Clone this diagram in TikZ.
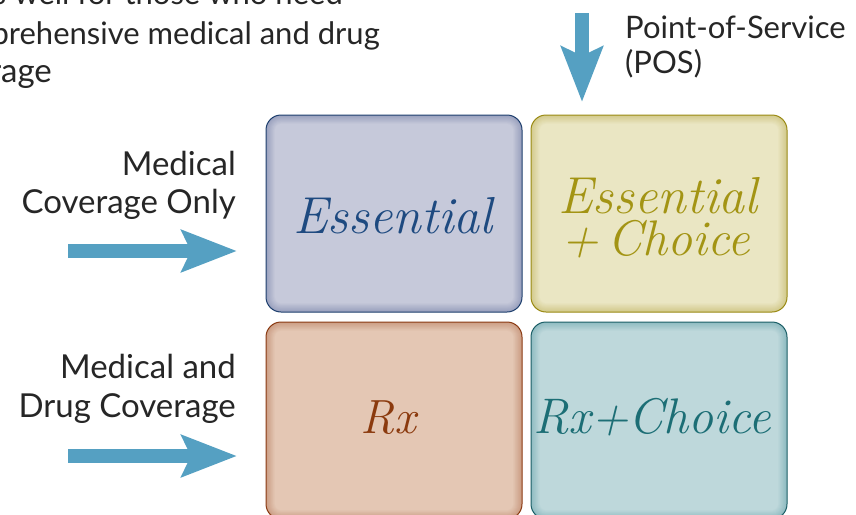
\documentclass[tikz,border=0pt]{standalone}
\usepackage{fontspec}
\setmainfont{Lato}
\newfontfamily\lmr{Latin Modern Roman}
\usetikzlibrary{arrows.meta}
\definecolor{arrowblue}{HTML}{55A0C2}
\definecolor{labelgray}{HTML}{262626}
\definecolor{essfill}{HTML}{C6C9DA}
\definecolor{essedge}{HTML}{9AA1BE}
\definecolor{essborder}{HTML}{1E3F6E}
\definecolor{esstext}{HTML}{1E4A80}
\definecolor{ecfill}{HTML}{EAE6C3}
\definecolor{ecedge}{HTML}{D3CA8C}
\definecolor{ecborder}{HTML}{9A8A14}
\definecolor{ectext}{HTML}{A39414}
\definecolor{rxfill}{HTML}{E4C7B4}
\definecolor{rxedge}{HTML}{CB9E85}
\definecolor{rxborder}{HTML}{8A3A12}
\definecolor{rxtext}{HTML}{8B3A0E}
\definecolor{rcfill}{HTML}{BED8DB}
\definecolor{rcedge}{HTML}{8FBBC1}
\definecolor{rcborder}{HTML}{1B5E66}
\definecolor{rctext}{HTML}{1C6E75}
\tikzset{
  lbl/.style={font=\fontsize{33}{38}\selectfont, text=labelgray, inner sep=0pt},
  smalllbl/.style={font=\fontsize{31}{38}\selectfont, text=labelgray, inner sep=0pt},
  bigarrow/.style={line width=14pt, draw=arrowblue, -{Stealth[length=55pt,width=41pt,inset=9pt]}},
  planbox/.style n args={3}{rectangle, rounded corners=15pt, minimum width=256pt, minimum height=197pt,
    draw=#3, line width=1pt, fill=#2,
    path picture={
      \foreach \i in {1,...,10}{
        \pgfmathsetmacro\p{\i*10}
        \fill[#1!\p!#2, rounded corners={max(15-\i*0.9,3)*1pt}]
          ([shift={(\i*0.9pt,\i*0.9pt)}]path picture bounding box.south west)
          rectangle
          ([shift={(-\i*0.9pt,-\i*0.9pt)}]path picture bounding box.north east);
      }
    }},
  boxtext/.style={font=\lmr\itshape\fontsize{52}{56}\selectfont, inner sep=0pt, anchor=base west},
  boxtextmd/.style={font=\lmr\itshape\fontsize{50}{54}\selectfont, inner sep=0pt, anchor=base west},
  boxtextsm/.style={font=\lmr\itshape\fontsize{48}{52}\selectfont, inner sep=0pt, anchor=base west}
}
\begin{document}
\begin{tikzpicture}[x=1pt,y=-1pt]
\useasboundingbox (0,0) rectangle (856,514);
\clip (0,0) rectangle (856,514);
% top-left text (cut by the picture edge)
\node[smalllbl, anchor=base east] (t1) at (343,5) {works well for those who need};
\node[smalllbl, anchor=base east] (t2) at (380,44) {comprehensive medical and drug};
\node[lbl, anchor=base east] (t3) at (52,82) {coverage};
% POS
\node[smalllbl, anchor=base west] (pos1) at (625,38) {Point-of-Service};
\node[smalllbl, anchor=base west] (pos2) at (625,73) {(POS)};
% left labels
\node[lbl, anchor=base east] (m1) at (236,175) {Medical};
\node[lbl, anchor=base east] (m2) at (236,213) {Coverage Only};
\node[lbl, anchor=base east] (d1) at (236,378) {Medical and};
\node[lbl, anchor=base east] (d2) at (236,417) {Drug Coverage};
% boxes
\node[planbox={essfill}{essedge}{essborder}] (ess) at (394,213.5) {};
\node[planbox={ecfill}{ecedge}{ecborder}] (essc) at (659,213.5) {};
\node[planbox={rxfill}{rxedge}{rxborder}] (rx) at (394,420.5) {};
\node[planbox={rcfill}{rcedge}{rcborder}] (rxc) at (659,420.5) {};
% box texts
\node[boxtext, text=esstext] (esst) at (293,233) {Essential};
\node[boxtext, text=ectext, text depth=0pt] (ect1) at (558,213) {Essential};
\node[boxtextmd, text=ectext, text height=34pt] (ect2) at (561,255) {+\kern9pt Choice};
\node[boxtextsm, text=rxtext] (rxt) at (360,433) {Rx};
\node[boxtextmd, text=rctext] (rct) at (533,433) {Rx+Choice};
% arrows
\coordinate (a1s) at (68,251); \coordinate (a1e) at (237,251);
\coordinate (a2s) at (68,456); \coordinate (a2e) at (237,456);
\coordinate (a3s) at (582,13); \coordinate (a3e) at (582,102);
\draw[bigarrow] (a1s) -- (a1e);
\draw[bigarrow] (a2s) -- (a2e);
\draw[bigarrow] (a3s) -- (a3e);
\end{tikzpicture}
\end{document}
